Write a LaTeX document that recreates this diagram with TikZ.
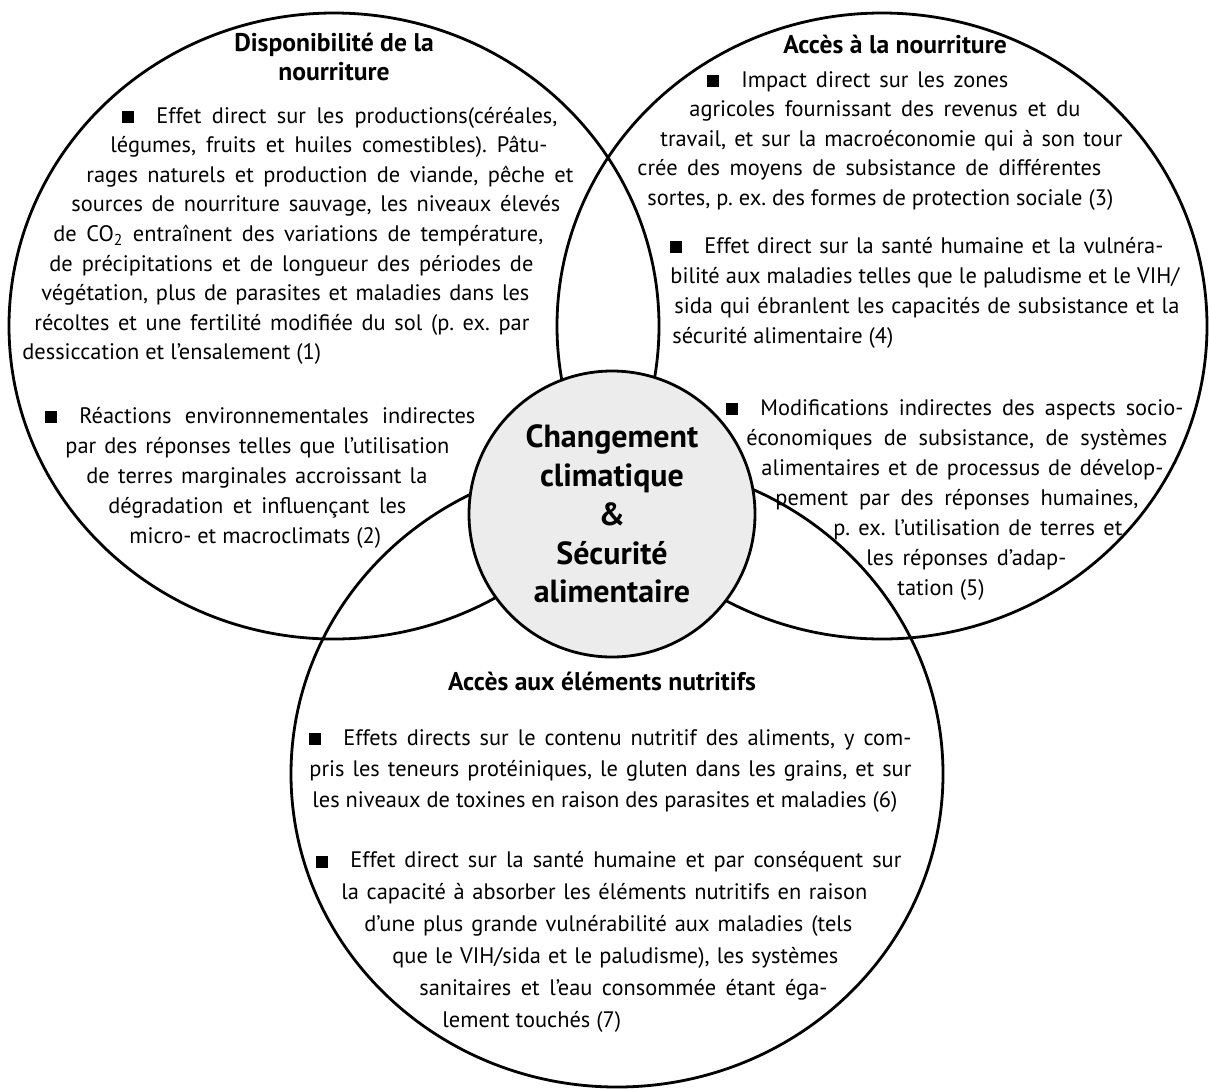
\documentclass[tikz,border=0pt]{standalone}
\usepackage{fontspec}
\setmainfont{PT Sans}
\frenchspacing
\definecolor{hubgray}{RGB}{236,236,236}
\newdimen\px \px=0.5pt
\newcommand{\sqbul}{\rule{6pt}{6pt}\hspace{11pt}}

\begin{document}
\begin{tikzpicture}[x=0.5pt, y=-0.5pt,
    ring/.style={line width=1.4pt},
    hub/.style={circle, draw, line width=1.4pt, fill=hubgray, minimum size=143pt, inner sep=0pt, align=center, font=\fontsize{16}{19.4}\selectfont\bfseries},
    head/.style={inner sep=0pt, align=center, font=\fontsize{12.8}{14.5}\selectfont\bfseries},
    txt/.style={anchor=north west, inner sep=0pt, align=justify, font=\fontsize{11.2}{#1}\selectfont}]
  \useasboundingbox (0,0) rectangle (1209,1088);
  % les trois cercles
  \draw[ring] (334,326) ellipse [x radius=162.5pt, y radius=156.5pt];
  \draw[ring] (882,326) ellipse [x radius=162.5pt, y radius=156.5pt];
  \draw[ring] (617,774) ellipse [x radius=163pt, y radius=156.5pt];
  \node[hub] (hub) at (612,514) {Changement\\climatique\\\&\\Sécurité\\alimentaire};
  % titres
  \node[head] (dispoT) at (334,57) {Disponibilité de la\\nourriture};
  \node[head, anchor=base] (accesT) at (895,53) {Accès à la nourriture};
  \node[head, anchor=base] (nutriT) at (602,690) {Accès aux éléments nutritifs};
  % textes
  \node[txt=14.8pt, text width=275.5pt] (dispoA) at (22,102) {\parshape 9 100\px 435\px 88\px 437\px 64\px 487\px 49\px 489\px 31\px 490\px 27\px 484\px 19\px 488\px 12\px 495\px 0\px 551\px
    \noindent\strut\sqbul Effet direct sur les productions(céréales,\linebreak
    légumes, fruits et huiles comestibles). Pâtu-\linebreak
    rages naturels et production de viande, pêche et\linebreak
    sources de nourriture sauvage, les niveaux élevés\linebreak
    de CO\textsubscript{2} entraînent des variations de température,\linebreak
    de précipitations et de longueur des périodes de\linebreak
    végétation, plus de parasites et maladies dans les\linebreak
    récoltes et une fertilité modifiée du sol (p. ex. par\linebreak
    dessiccation et l’ensalement (1)\par};
  \node[txt=15pt, text width=215pt] (dispoB) at (45,402) {\parshape 5 0\px 430\px 20\px 384\px 41\px 341\px 63\px 298\px 84\px 300\px
    \noindent\strut\sqbul Réactions environnementales indirectes\linebreak
    par des réponses telles que l’utilisation\linebreak
    de terres marginales accroissant la\linebreak
    dégradation et influençant les\linebreak
    micro- et macroclimats (2)\par};
  \node[txt=14.75pt, text width=249.5pt] (accesA) at (637,66) {\parshape 5 70\px 301\px 52\px 391\px 23\px 462\px 0\px 464\px 10\px 489\px
    \noindent\strut\sqbul Impact direct sur les zones\linebreak
    agricoles fournissant des revenus et du\linebreak
    travail, et sur la macroéconomie qui à son tour\linebreak
    crée des moyens de subsistance de différentes\linebreak
    sortes, p. ex. des formes de protection sociale (3)\par};
  \node[txt=15pt, text width=254.5pt] (accesB) at (670,232) {\parshape 4 0\px 493\px 0\px 509\px 4\px 505\px 2\px 507\px
    \noindent\strut\sqbul Effet direct sur la santé humaine et la vulnéra-\linebreak
    bilité aux maladies telles que le paludisme et le VIH/\linebreak
    sida qui ébranlent les capacités de subsistance et la\linebreak
    sécurité alimentaire (4)\par};
  \node[txt=15pt, text width=228.5pt] (accesC) at (726,394) {\parshape 7 0\px 457\px 20\px 421\px 35\px 402\px 49\px 363\px 107\px 289\px 140\px 200\px 171\px 250\px
    \noindent\strut\sqbul Modifications indirectes des aspects socio-\linebreak
    économiques de subsistance, de systèmes\linebreak
    alimentaires et de processus de dévelop-\linebreak
    pement par des réponses humaines,\linebreak
    p. ex. l’utilisation de terres et\linebreak
    les réponses d’adap-\linebreak
    tation (5)\par};
  \node[txt=15.5pt, text width=301pt] (nutriA) at (309,723) {\parshape 3 0\px 602\px 0\px 602\px 3\px 599\px
    \noindent\strut\sqbul Effets directs sur le contenu nutritif des aliments, y com-\linebreak
    pris les teneurs protéiniques, le gluten dans les grains, et sur\linebreak
    les niveaux de toxines en raison des parasites et maladies (6)\par};
  \node[txt=16pt, text width=292.5pt] (nutriB) at (316,845) {\parshape 6 0\px 585\px 25\px 526\px 48\px 488\px 76\px 446\px 103\px 408\px 126\px 400\px
    \noindent\strut\sqbul Effet direct sur la santé humaine et par conséquent sur\linebreak
    la capacité à absorber les éléments nutritifs en raison\linebreak
    d’une plus grande vulnérabilité aux maladies (tels\linebreak
    que le VIH/sida et le paludisme), les systèmes\linebreak
    sanitaires et l’eau consommée étant éga-\linebreak
    lement touchés (7)\par};
\end{tikzpicture}
\end{document}
